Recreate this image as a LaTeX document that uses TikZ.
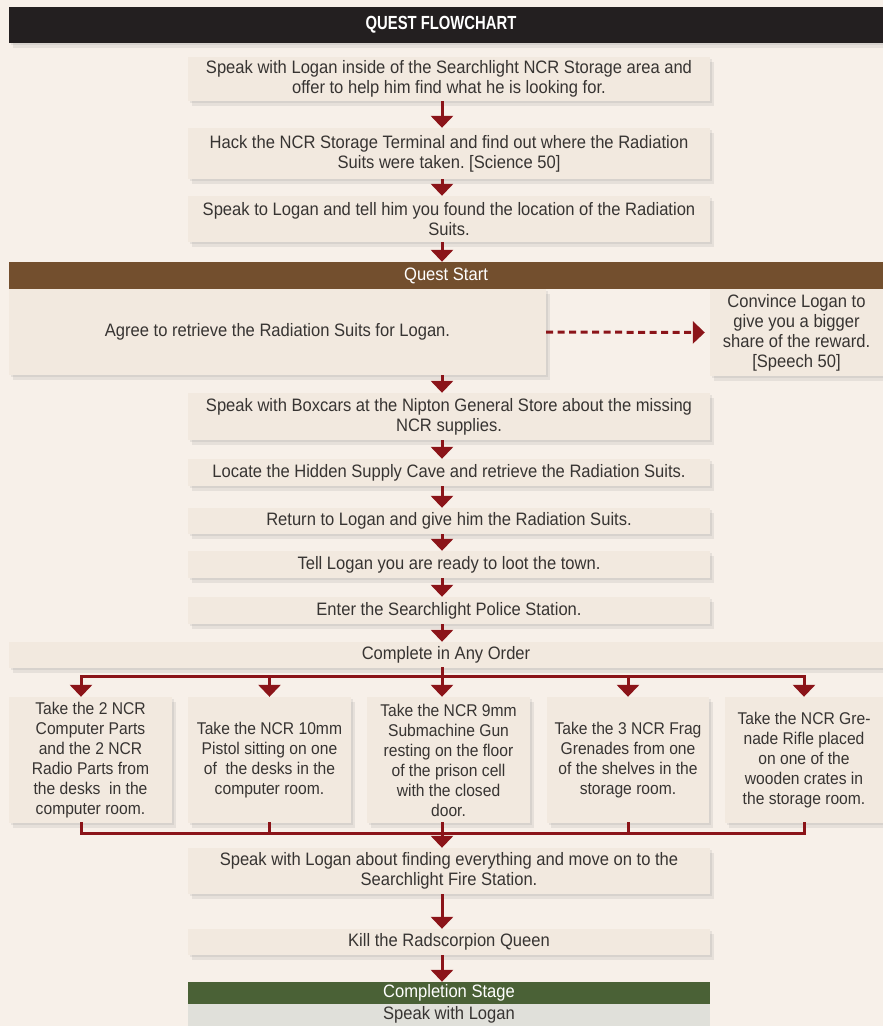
\documentclass[tikz,border=0pt]{standalone}
\usepackage{fontspec}
\setmainfont[FakeStretch=0.92]{Liberation Sans}
\newfontfamily\headfont[FakeStretch=0.78]{Liberation Sans}
\usepackage{tikz}
\usetikzlibrary{arrows.meta,positioning,calc,shadows}
\definecolor{paper}{RGB}{247,240,233}
\definecolor{card}{RGB}{242,233,223}
\definecolor{headblack}{RGB}{35,31,32}
\definecolor{startbrown}{RGB}{115,79,46}
\definecolor{donegreen}{RGB}{74,97,54}
\definecolor{donegray}{RGB}{224,224,218}
\definecolor{arrowred}{RGB}{139,20,25}
\definecolor{ink}{RGB}{55,52,50}
\frenchspacing

\begin{document}
\begin{tikzpicture}[x=1pt,y=-1pt,
    softshadow/.style={drop shadow={shadow xshift=2pt,shadow yshift=-2pt,opacity=.14},
      drop shadow={shadow xshift=4pt,shadow yshift=-5pt,opacity=.14}},
    card/.style={fill=card,text=ink,align=center,inner sep=0pt,softshadow,
      font=\fontsize{18}{20}\selectfont},
    pick/.style={card,minimum height=126,font=\fontsize{17}{20}\selectfont},
    band/.style={text=white,align=center,inner sep=0pt,font=\fontsize{18}{20}\selectfont},
    flow/.style={draw=arrowred,line width=3pt,-{Triangle[width=22pt,length=12pt]}},
    wire/.style={draw=arrowred,line width=3pt,line cap=rect}]
  \fill[paper] (0,0) rectangle (883,1026);
  \useasboundingbox (0,0) rectangle (883,1026);
  \coordinate (spine) at (442,0);

  % header and first steps
  \node[fill=headblack,text=white,inner sep=0pt,minimum width=874,minimum height=36,softshadow,
    font=\headfont\bfseries\fontsize{19}{20}\selectfont] (title) at (446,25) {\hspace*{-10pt}QUEST FLOWCHART};
  \node[card,minimum width=522,minimum height=44] (speak) at (449,79)
    {Speak with Logan inside of the Searchlight NCR Storage area and\\offer to help him find what he is looking for.};
  \node[card,minimum width=522,minimum height=51] (hack) at (449,153.5)
    {Hack the NCR Storage Terminal and find out where the Radiation\\Suits were taken. [Science 50]};
  \node[card,minimum width=522,minimum height=46] (tell) at (449,219)
    {Speak to Logan and tell him you found the location of the Radiation\\Suits.};
  \node[band,fill=startbrown,minimum width=874,minimum height=27] (qstart) at (446,275.5) {Quest Start};

  \node[card,minimum width=537,minimum height=86] (agree) at (277.5,332)
    {Agree to retrieve the Radiation Suits for Logan.};
  \node[card,minimum width=173,minimum height=87] (convince) at (796.5,332.5)
    {Convince Logan to\\give you a bigger\\share of the reward.\\{[Speech 50]}};

  \node[card,minimum width=522,minimum height=47] (boxcars) at (449,416.5)
    {Speak with Boxcars at the Nipton General Store about the missing\\NCR supplies.};
  \node[card,minimum width=522,minimum height=27] (cave) at (449,472.5)
    {Locate the Hidden Supply Cave and retrieve the Radiation Suits.};
  \node[card,minimum width=522,minimum height=26] (back) at (449,521)
    {Return to Logan and give him the Radiation Suits.};
  \node[card,minimum width=522,minimum height=27] (loot) at (449,564.5)
    {Tell Logan you are ready to loot the town.};
  \node[card,minimum width=522,minimum height=27] (police) at (449,610.5)
    {Enter the Searchlight Police Station.};
  \node[card,minimum width=874,minimum height=26] (anyorder) at (446,655)
    {Complete in Any Order};

  % the five pick-ups
  \node[pick,minimum width=163] (t1) at (90.5,760)
    {Take the 2 NCR\\Computer Parts\\and the 2 NCR\\Radio Parts from\\the desks \ in the\\computer room.};
  \node[pick,minimum width=163] (t2) at (269.5,760)
    {Take the NCR 10mm\\Pistol sitting on one\\of \ the desks in the\\computer room.};
  \node[pick,minimum width=163] (t3) at (448.5,760)
    {Take the NCR 9mm\\Submachine Gun\\resting on the floor\\of the prison cell\\with the closed\\door.};
  \node[pick,minimum width=162] (t4) at (628,760)
    {Take the 3 NCR Frag\\Grenades from one\\of the shelves in the\\storage room.};
  \node[pick,minimum width=158] (t5) at (804,760)
    {Take the NCR Gre-\\nade Rifle placed\\on one of the\\wooden crates in\\the storage room.};

  \node[card,minimum width=522,minimum height=46] (fire) at (449,871)
    {Speak with Logan about finding everything and move on to the\\Searchlight Fire Station.};
  \node[card,minimum width=522,minimum height=26] (queen) at (449,942)
    {Kill the Radscorpion Queen};
  \node[band,fill=donegreen,minimum width=522,minimum height=22] (cstage) at (449,993) {Completion Stage};
  \node[band,fill=donegray,text=ink,minimum width=522,minimum height=22] (cfinal) at (449,1015) {Speak with Logan};

  % connectors
  \draw[flow] (speak.south -| spine) -- (hack.north -| spine);
  \draw[flow] (hack.south -| spine) -- (tell.north -| spine);
  \draw[flow] (tell.south -| spine) -- (qstart.north -| spine);
  \draw[flow,dash pattern=on 7pt off 4.5pt,shorten >=5pt] (agree.east) -- (convince.west);
  \draw[flow] (agree.south -| spine) -- (boxcars.north -| spine);
  \draw[flow] (boxcars.south -| spine) -- (cave.north -| spine);
  \draw[flow] (cave.south -| spine) -- (back.north -| spine);
  \draw[flow] (back.south -| spine) -- (loot.north -| spine);
  \draw[flow] (loot.south -| spine) -- (police.north -| spine);
  \draw[flow] (police.south -| spine) -- (anyorder.north -| spine);

  \coordinate (fork) at (442,676);
  \coordinate (merge) at (442,833);
  \coordinate (t1in) at ([xshift=-9.5pt]t1.north);
  \coordinate (t1out) at ([xshift=-9.5pt]t1.south);
  \draw[wire] (anyorder.south -| spine) -- (fork);
  \draw[wire] (fork -| t1in) -- (fork -| t5.north);
  \draw[flow] (fork -| t1in) -- (t1in);
  \draw[flow] (fork) -- (t3.north -| spine);
  \foreach \k in {t2,t4,t5}
    \draw[flow] (fork -| \k.north) -- (\k.north);

  \draw[wire] (t1out) -- (merge -| t1out);
  \draw[wire] (t3.south -| spine) -- (merge);
  \foreach \k in {t2,t4,t5}
    \draw[wire] (\k.south) -- (merge -| \k.south);
  \draw[wire] (merge -| t1out) -- (merge -| t5.south);
  \draw[flow] (merge) -- (fire.north -| spine);
  \draw[flow] (fire.south -| spine) -- (queen.north -| spine);
  \draw[flow] (queen.south -| spine) -- (cstage.north -| spine);
\end{tikzpicture}
\end{document}
